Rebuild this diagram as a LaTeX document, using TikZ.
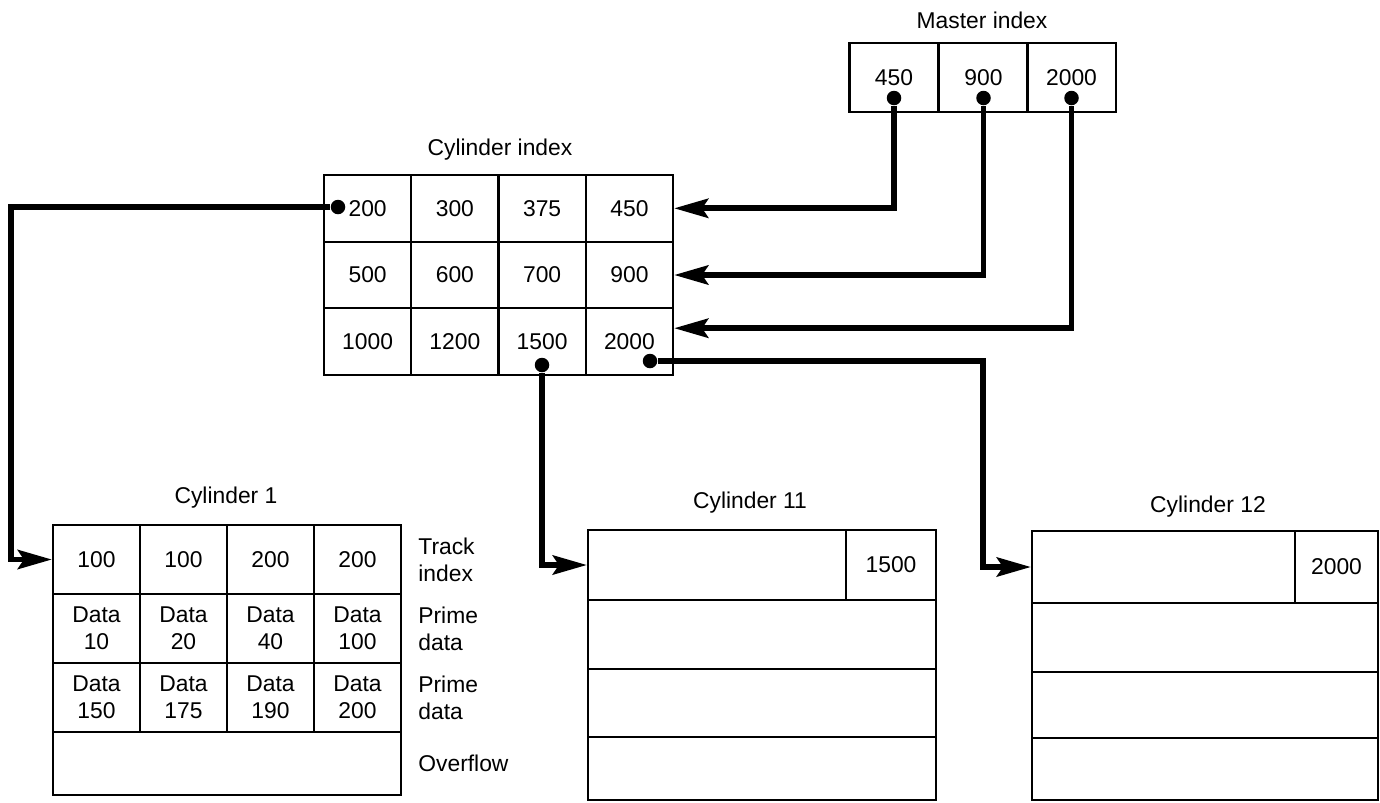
\documentclass[tikz,border=0pt]{standalone}
\usepackage{fontspec}
\setmainfont{Liberation Sans}
\usetikzlibrary{arrows.meta,positioning}
\begin{document}
\begin{tikzpicture}[x=0.02cm,y=-0.02cm,
    font=\fontsize{13}{15.5}\selectfont,
    cell/.style={draw,line width=1.2pt,inner sep=0pt,align=center,
      minimum width=1.745cm,minimum height=1.335cm},
    dot/.style={circle,fill,inner sep=0pt,minimum size=0.29cm},
    link/.style={line width=3.4pt},
    tolink/.style={link,-{Stealth[length=0.68cm,width=0.38cm,inset=0.12cm]}},
    side/.style={align=left,inner sep=0pt}]
  \useasboundingbox (0,0) rectangle (1380,802);

  \node at (982,20) {Master index};
  \foreach \val/\x in {450/894,900/983.5,2000/1071.5}{
    \node[cell,minimum width=1.78cm,minimum height=1.38cm] (mi-\val) at (\x,77.5) {\val};
    \node[dot] (md-\val) at (\x,98) {};
  }

  \node at (500,150) {Cylinder index};
  \foreach \row [count=\r] in {{200,300,375,450},{500,600,700,900},{1000,1200,1500,2000}}
    \foreach \val [count=\c] in \row
      \node[cell] (ci-\r-\c) at ({280.4+87.25*\c},{141.6+66.7*\r}) {\val};
  \node[dot] (cd-200) at (338,207) {};
  \node[dot] (cd-1500) at (542,365) {};
  \node[dot] (cd-2000) at (650,361) {};

  \node at (226,498) {Cylinder 1};
  \foreach \val [count=\c] in {100,100,200,200}
    \node[cell,minimum width=1.74cm,minimum height=1.38cm] (c1-1-\c) at ({9.5+87*\c},559.5) {\val};
  \foreach \row [count=\r from 2] in {{10,20,40,100},{150,175,190,200}}
    \foreach \val [count=\c] in \row
      \node[cell,minimum width=1.74cm,minimum height=1.38cm] (c1-\r-\c) at ({9.5+87*\c},{490.5+69*\r}) {Data\\\val};
  \node[cell,minimum width=6.96cm,minimum height=1.26cm] (c1-4) at (227,763.5) {};
  \node[side,right=0.32cm of c1-1-4] {Track\\index};
  \node[side,right=0.32cm of c1-2-4] {Prime\\data};
  \node[side,right=0.32cm of c1-3-4] {Prime\\data};
  \node[side,right=0.32cm of c1-4] {Overflow};

  \node at (750,503) {Cylinder 11};
  \node[cell,minimum width=5.16cm,minimum height=1.4cm] (c11-top) at (717,565) {};
  \node[cell,minimum width=1.8cm,minimum height=1.4cm] (c11-key) at (891,565) {1500};
  \foreach \y/\h [count=\r from 2] in {634.5/1.38,703/1.36,768.5/1.26}
    \node[cell,minimum width=6.96cm,minimum height=\h cm] (c11-\r) at (762,\y) {};

  \node at (1208,507) {Cylinder 12};
  \node[cell,minimum width=5.26cm,minimum height=1.44cm] (c12-top) at (1163.5,567) {};
  \node[cell,minimum width=1.66cm,minimum height=1.44cm] (c12-key) at (1336.5,567) {2000};
  \foreach \y/\h [count=\r from 2] in {637.5/1.38,705/1.32,769/1.24}
    \node[cell,minimum width=6.92cm,minimum height=\h cm] (c12-\r) at (1205,\y) {};

  \coordinate (turn-l) at (11,207);
  \coordinate (turn-r) at (983,361);
  \draw[tolink] (md-450) |- (ci-1-4.east);
  \draw[tolink] (md-900) |- (ci-2-4.east);
  \draw[tolink] (md-2000) |- ([yshift=0.27cm]ci-3-4.east);
  \draw[tolink] (cd-200) -- (turn-l) |- (c1-1-1.west);
  \draw[tolink] (cd-1500) |- (c11-top.west);
  \draw[tolink] (cd-2000) -- (turn-r) |- (c12-top.west);
\end{tikzpicture}
\end{document}
